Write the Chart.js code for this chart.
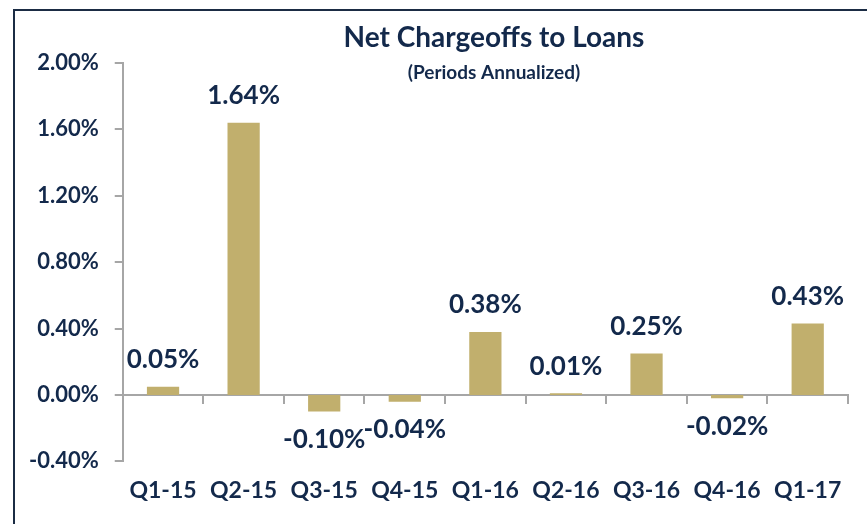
<!DOCTYPE html>
<html>
<head>
<meta charset="utf-8">
<script src="https://cdn.jsdelivr.net/npm/chart.js@4"></script>
<style>
  body { margin: 0; overflow: hidden; background: #fff; }
  #frame {
    position: absolute; left: 13px; top: 9px;
    width: 958px; height: 530px;
    border-top: 2px solid #1b2c44; border-left: 2px solid #1b2c44;
  }
</style>
</head>
<body>
<div id="frame"><canvas id="grafico" width="958" height="520"></canvas></div>
<script>
// dados do grafico
const trimestres = ['Q1-15', 'Q2-15', 'Q3-15', 'Q4-15', 'Q1-16', 'Q2-16', 'Q3-16', 'Q4-16', 'Q1-17'];
const chargeoffs = [0.05, 1.64, -0.10, -0.04, 0.38, 0.01, 0.25, -0.02, 0.43];
const titulo = 'Net Chargeoffs to Loans';
const subtitulo = '(Periods Annualized)';

const corTexto = '#13294b';
const corEixo = '#a6a6a6';
const fonte = 'Lato';

Chart.defaults.font.family = fonte;
Chart.defaults.font.weight = 'bold';
Chart.defaults.color = corTexto;

function pct(v) {
  if (Math.abs(v) < 1e-9) v = 0;
  return v.toFixed(2) + '%';
}

// titulo desenhado por cima da area do grafico (como no Excel)
const tituloPlugin = {
  id: 'tituloPlugin',
  afterDraw(chart) {
    const ctx = chart.ctx;
    const cx = chart.width / 2;
    ctx.save();
    ctx.fillStyle = corTexto;
    ctx.textAlign = 'center';
    ctx.textBaseline = 'middle';
    ctx.font = 'bold 28px ' + fonte;
    ctx.fillText(titulo, cx, 27);
    ctx.font = 'bold 19px ' + fonte;
    ctx.fillText(subtitulo, cx, 62);
    ctx.restore();
  }
};

// rotulos de valor nas barras
const rotulosPlugin = {
  id: 'rotulosPlugin',
  afterDatasetsDraw(chart) {
    const ctx = chart.ctx;
    const meta = chart.getDatasetMeta(0);
    ctx.save();
    ctx.fillStyle = corTexto;
    ctx.textAlign = 'center';
    ctx.textBaseline = 'middle';
    ctx.font = 'bold 26px ' + fonte;
    meta.data.forEach((barra, i) => {
      const v = chargeoffs[i];
      const y = v >= 0 ? barra.y - 27 : barra.y + 28;
      ctx.fillText(pct(v), barra.x, y);
    });
    ctx.restore();
  }
};

const ctx = document.getElementById('grafico').getContext('2d');
const myChart = new Chart(ctx, {
  type: 'bar',
  data: {
    labels: trimestres,
    datasets: [{
      label: 'Net Chargeoffs',
      data: chargeoffs,
      backgroundColor: '#c1af6d',
      borderWidth: 0,
      barPercentage: 0.4,
      categoryPercentage: 1,
      xAxisID: 'x',
      yAxisID: 'y'
    }]
  },
  plugins: [tituloPlugin, rotulosPlugin],
  options: {
    responsive: false,
    animation: false,
    layout: { padding: { left: -2, right: 125, top: 52, bottom: 12 } },
    plugins: {
      legend: { display: false },
      title: { display: false },
      tooltip: { enabled: false }
    },
    scales: {
      y: {
        min: -0.4,
        max: 2.0,
        ticks: {
          stepSize: 0.4,
          padding: 16,
          font: { size: 22, weight: 'bold' },
          callback: (v) => pct(v)
        },
        grid: { drawOnChartArea: false, tickLength: 8, color: corEixo, lineWidth: 2 },
        border: { color: corEixo, width: 2 }
      },
      x: {
        position: { y: 0 },
        ticks: { display: false },
        grid: { offset: true, drawOnChartArea: false, tickLength: 8, color: corEixo, lineWidth: 2 },
        border: { color: corEixo, width: 2 }
      },
      x2: {
        type: 'category',
        position: 'bottom',
        labels: trimestres,
        ticks: { padding: 15, font: { size: 23, weight: 'bold' } },
        grid: { display: false, drawTicks: false },
        border: { display: false }
      }
    }
  }
});
</script>
</body>
</html>
